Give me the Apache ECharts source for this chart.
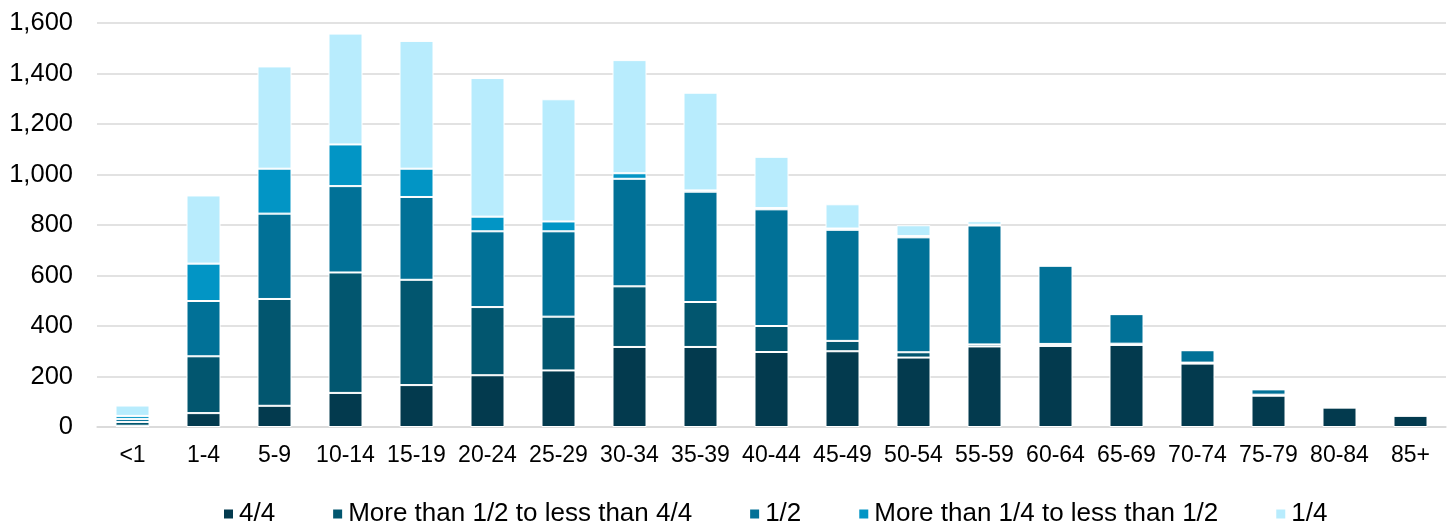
<!DOCTYPE html>
<html>
<head>
<meta charset="utf-8">
<script src="https://cdn.jsdelivr.net/npm/echarts@6/dist/echarts.min.js"></script>
<style>
html,body{margin:0;padding:0;background:#fff;}
#chart{width:1450px;height:525px;}
</style>
</head>
<body>
<div id="chart"></div>
<script>
const categories = ['<1','1-4','5-9','10-14','15-19','20-24','25-29','30-34','35-39','40-44','45-49','50-54','55-59','60-64','65-69','70-74','75-79','80-84','85+'];
const seriesNames = ['4/4','More than 1/2 to less than 4/4','1/2','More than 1/4 to less than 1/2','1/4'];
const full = [5,55,84,135,166,205,224,317,317,297,300,275,319,321,325,251,124,77,45];
const moreThanHalf = [15,225,423,477,417,270,213,240,178,103,41,21,8,8,5,4,4,0,0];
const half = [12,219,338,342,328,300,338,426,437,462,440,455,471,310,117,49,21,0,0];
const moreThanQuarter = [12,148,178,165,112,58,39,22,5,5,5,5,3,0,0,0,0,0,0];
const quarter = [41,270,405,439,506,549,484,448,387,203,96,43,14,0,0,0,0,0,0];
const colors = ['#033A4E','#02566F','#017197','#0295C5','#B8ECFD'];

const dataSets = [full, moreThanHalf, half, moreThanQuarter, quarter];
const chart = echarts.init(document.getElementById('chart'));
chart.setOption({
  animation:false,
  color: colors,
  grid:{left:97,right:4,top:23,bottom:98},
  legend:{
    top:496,
    left:217,
    icon:'rect',
    itemWidth:11,
    itemHeight:11,
    itemGap:56,
    textStyle:{fontFamily:'Liberation Sans, Arial',fontSize:26,color:'#000'},
    data: seriesNames
  },
  xAxis:{
    type:'category',
    data:categories,
    axisTick:{show:false},
    axisLine:{lineStyle:{color:'#d9d9d9',width:1.5}},
    axisLabel:{fontFamily:'Liberation Sans, Arial',fontSize:23,color:'#000',margin:17,interval:0}
  },
  yAxis:{
    type:'value',
    min:0,max:1600,interval:200,
    axisLabel:{fontFamily:'Liberation Sans, Arial',fontSize:25.5,color:'#000',margin:24,
      formatter:v=>v.toLocaleString('en-US')},
    splitLine:{lineStyle:{color:'#d9d9d9',width:1.5}},
    axisLine:{show:false},axisTick:{show:false}
  },
  series: seriesNames.map((n,i)=>({
    name:n,
    type:'bar',
    stack:'total',
    barWidth:34,
    data:dataSets[i],
    itemStyle:{borderColor:'#fff',borderWidth:1}
  }))
});
</script>
</body>
</html>
